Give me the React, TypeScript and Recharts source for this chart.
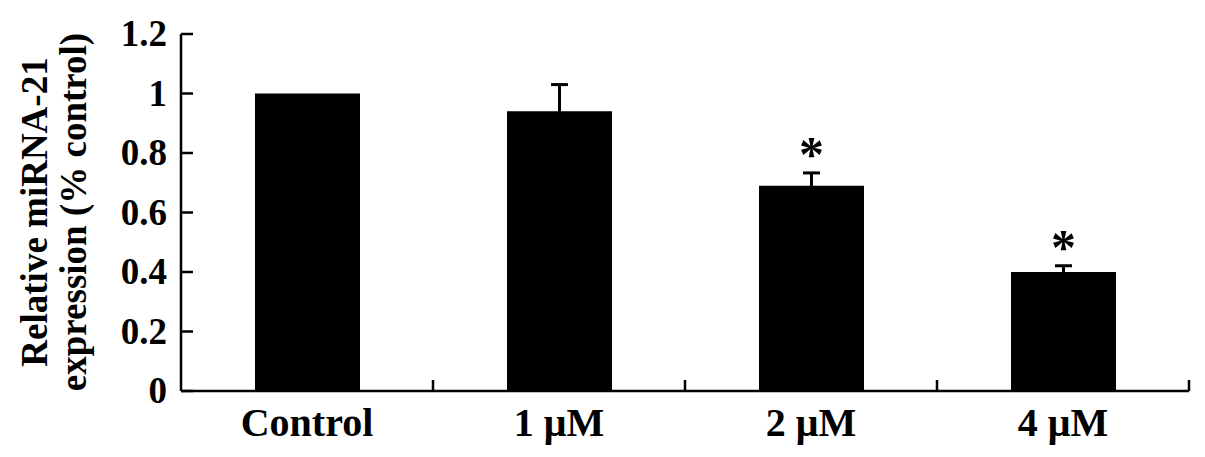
import { BarChart, Bar, XAxis, YAxis, ErrorBar, LabelList } from 'recharts';

const categories = ['Control', '1 μM', '2 μM', '4 μM'];
const means = [1.0, 0.94, 0.69, 0.4];
const errors = [0, 0.09, 0.043, 0.021];
const significance = ['', '', '*', '*'];
const yTicks = [0, 0.2, 0.4, 0.6, 0.8, 1, 1.2];

const data = categories.map((name, i) => ({
    name,
    value: means[i],
    err: errors[i],
    sig: significance[i],
}));

const W = 1205;
const H = 457;
const margin = { top: 34, right: 16, bottom: 0, left: 0 };
const yAxisWidth = 181;
const xAxisHeight = 66;
const font = 'Liberation Serif, Times New Roman, serif';
const bandWidth = (W - margin.left - yAxisWidth - margin.right) / categories.length;

function YTick(props: any) {
    const { x, y, payload } = props;
    const axisX = Number(x) + 14;
    return (
        <g>
            <line x1={axisX} x2={axisX + 12} y1={y} y2={y} stroke="#000" strokeWidth={2.5} />
            <text x={x} y={Number(y) + 12} textAnchor="end" fontFamily={font} fontWeight="bold" fontSize={37} fill="#000">
                {String(payload.value)}
            </text>
        </g>
    );
}

function XTick(props: any) {
    const { x, y, payload } = props;
    const edge = Number(x) + bandWidth / 2;
    return (
        <g>
            <line x1={edge} x2={edge} y1={y} y2={Number(y) - 11} stroke="#000" strokeWidth={2.5} />
            <text x={x} y={Number(y) + 45} textAnchor="middle" fontFamily={font} fontWeight="bold" fontSize={40} fill="#000">
                {payload.value}
            </text>
        </g>
    );
}

function YLabel() {
    return (
        <g fontFamily={font} fontWeight="bold" fontSize={37} fill="#000">
            <text x={47} y={212} textAnchor="middle" transform="rotate(-90, 47, 212)">
                Relative miRNA-21
            </text>
            <text x={86} y={212} textAnchor="middle" transform="rotate(-90, 86, 212)">
                expression (% control)
            </text>
        </g>
    );
}

function Star(props: any) {
    const { x, y, width, height, index, value } = props;
    if (!value) return null;
    const pxPerUnit = Number(height) / means[index];
    const errTop = Number(y) - errors[index] * pxPerUnit;
    return (
        <text x={Number(x) + Number(width) / 2} y={errTop - 2} textAnchor="middle" fontFamily={font} fontWeight="bold" fontSize={50} fill="#000">
            {value}
        </text>
    );
}

export default function App() {
    return (
        <div style={{ position: 'absolute', left: 0, top: 0, width: W, height: H, background: '#fff' }}>
            <BarChart width={W} height={H} data={data} margin={margin}>
                <XAxis
                    dataKey="name"
                    height={xAxisHeight}
                    tickSize={0}
                    tickMargin={0}
                    tick={<XTick />}
                    axisLine={{ stroke: '#000', strokeWidth: 2.5 }}
                    interval={0}
                />
                <YAxis
                    width={yAxisWidth}
                    domain={[0, 1.2]}
                    ticks={yTicks}
                    tickSize={0}
                    tickMargin={14}
                    tick={<YTick />}
                    axisLine={{ stroke: '#000', strokeWidth: 2.5 }}
                    interval={0}
                    label={<YLabel />}
                />
                <Bar dataKey="value" fill="#000" barSize={105} isAnimationActive={false}>
                    <ErrorBar dataKey="err" direction="y" width={8.5} stroke="#000" strokeWidth={3} />
                    <LabelList dataKey="sig" content={<Star />} />
                </Bar>
            </BarChart>
        </div>
    );
}
